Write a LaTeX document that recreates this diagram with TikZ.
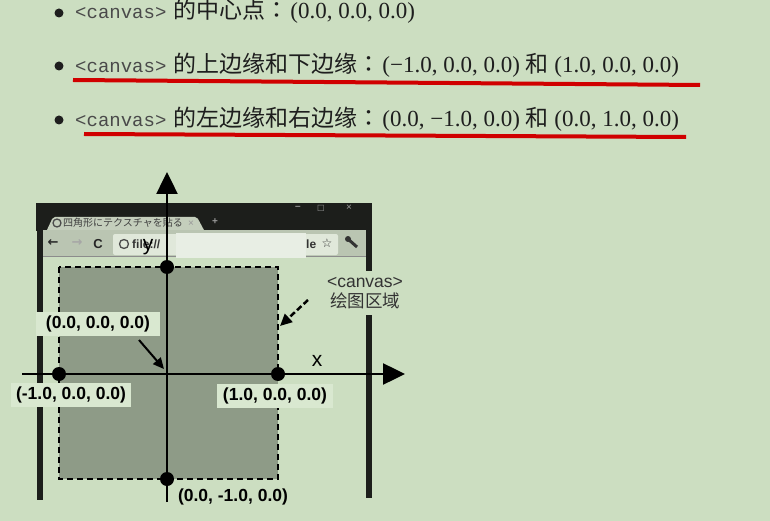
\documentclass[tikz,border=0pt]{standalone}
\usepackage{fontspec}
\setmainfont{Liberation Serif}
\setsansfont{Liberation Sans}
\setmonofont{Liberation Mono}
\newfontfamily\cjk{Noto Sans CJK SC}
\newfontfamily\cjktc{Noto Sans CJK TC}
\newfontfamily\jpfont{Noto Sans CJK JP}
\newfontfamily\symfont{DejaVu Sans}
\usetikzlibrary{arrows.meta}
\definecolor{bg}{HTML}{CCDEC1}
\definecolor{boxbg}{HTML}{D9E8D0}
\definecolor{canvasgray}{HTML}{8E9B87}
\definecolor{framedark}{HTML}{1C1E1B}
\definecolor{toolgray}{HTML}{BAC5B2}
\definecolor{tabgray}{HTML}{C4CEBC}
\definecolor{addrwhite}{HTML}{E0E8DA}
\definecolor{coverwhite}{HTML}{E8EEE4}
\definecolor{monogray}{HTML}{4A4A4A}
\definecolor{uline}{HTML}{D00000}
\definecolor{txtdark}{HTML}{1E1E1E}
\newcommand{\monotxt}[1]{{\color{monogray}\ttfamily\fontsize{19}{22}\selectfont #1}}
\newcommand{\cjkcolon}{{\cjktc ：}\hspace{2pt}}
\tikzset{
  bulletdot/.style={circle, fill=txtdark, minimum size=9pt, inner sep=0pt},
  bulletline/.style={anchor=base west, inner sep=0pt, text=txtdark, font=\fontsize{23}{27}\selectfont},
  redline/.style={draw=uline, line width=4pt},
  axis/.style={draw=black, line width=2.5pt, -{Triangle[length=22pt,width=21pt]}},
  ptdot/.style={circle, fill=black, minimum size=14pt, inner sep=0pt},
  coordlabel/.style={font=\sffamily\bfseries\fontsize{17.5}{20}\selectfont, text=black, inner ysep=4pt},
  axislabel/.style={font=\sffamily\fontsize{21}{24}\selectfont, text=black, inner sep=0pt, anchor=base},
  ptr/.style={draw=black, line width=2pt, -{Triangle[length=11pt,width=10pt]}},
  dashptr/.style={draw=black, line width=2.5pt, dash pattern=on 6pt off 3pt, -{Triangle[length=12pt,width=11pt]}},
  tinytxt/.style={inner sep=0pt, font=\sffamily\bfseries\fontsize{12}{12}\selectfont, text=black!80},
}
\begin{document}
\begin{tikzpicture}[x=1pt,y=-1pt]
\fill[bg] (0,0) rectangle (770,521);
\useasboundingbox (0,0) rectangle (770,521);

% ---------- bullet list ----------
\node[bulletdot] (b1) at (59,13) {};
\node[bulletdot] (b2) at (59,66) {};
\node[bulletdot] (b3) at (59,120) {};
\node[bulletline] (t1) at (75,19) {\monotxt{<canvas>}\hspace{7pt}{\cjk 的中心点}\cjkcolon(0.0, 0.0, 0.0)};
\node[bulletline] (t2) at (75,73) {\monotxt{<canvas>}\hspace{7pt}{\cjk 的上边缘和下边缘}\cjkcolon(−1.0, 0.0, 0.0) {\cjk 和} (1.0, 0.0, 0.0)};
\node[bulletline] (t3) at (75,127) {\monotxt{<canvas>}\hspace{7pt}{\cjk 的左边缘和右边缘}\cjkcolon(0.0, −1.0, 0.0) {\cjk 和} (0.0, 1.0, 0.0)};
\coordinate (u2a) at (73,80);
\coordinate (u2b) at (700,85);
\coordinate (u3a) at (84,134);
\coordinate (u3b) at (686,137);
\draw[redline] (u2a) -- (u2b);
\draw[redline] (u3a) -- (u3b);

% ---------- browser window ----------
\fill[framedark] (36,203) rectangle (372,231);
\fill[tabgray, rounded corners=2pt] (46,232) -- (53,217) -- (197,217) -- (205,232) -- cycle;
\fill[toolgray] (42,230) rectangle (366,256);
\draw[black!45, line width=0.8pt] (42,256) -- (366,256);
\fill[framedark] (37,203) rectangle (43,500);
\fill[framedark] (366,203) rectangle (372,498);
% tab contents
\draw[black!70, line width=1.3pt] (57,223) circle (4);
\node[inner sep=0pt, anchor=west, text=black!75, font=\jpfont\fontsize{10}{10}\selectfont] (tabtitle) at (63,223) {四角形にテクスチャを貼る};
\node[inner sep=0pt, text=black!40, font=\sffamily\fontsize{10}{10}\selectfont] (tabclose) at (191,224) {×};
\node[inner sep=0pt, text=black!40, font=\sffamily\bfseries\fontsize{10}{10}\selectfont] (newtab) at (215,222) {+};
% window buttons
\node[inner sep=0pt, text=black!40, font=\sffamily\bfseries\fontsize{10}{10}\selectfont] (wmin) at (298,208) {–};
\node[inner sep=0pt, text=black!40, font=\symfont\fontsize{8}{8}\selectfont] (wmax) at (321,208) {□};
\node[inner sep=0pt, text=black!40, font=\sffamily\fontsize{10}{10}\selectfont] (wclose) at (349,208) {×};
% toolbar
\node[inner sep=0pt, text=black!85, font=\symfont\bfseries\fontsize{13}{13}\selectfont] (back) at (53,243) {←};
\node[inner sep=0pt, text=black!35, font=\symfont\bfseries\fontsize{13}{13}\selectfont] (fwd) at (77,243) {→};
\node[inner sep=0pt, text=black!85, font=\sffamily\bfseries\fontsize{13}{13}\selectfont] (reload) at (98,244) {C};
\fill[addrwhite, rounded corners=2pt] (113,234) rectangle (338,255);
\draw[black!70, line width=1.3pt] (124,244) circle (4.5);
\node[tinytxt, anchor=west] (url) at (132,244) {file://};
\fill[coverwhite] (176,233) rectangle (306,258);
\node[tinytxt, anchor=west] (urlend) at (306,244) {le};
\node[inner sep=0pt, text=black!80, font=\symfont\bfseries\fontsize{12}{12}\selectfont] (star) at (327,243) {☆};
\draw[black!80, line width=3pt] (348,239) -- (357,247);
\fill[black!80] (348,239) circle (3);

% ---------- canvas ----------
\draw[black, line width=2pt, dash pattern=on 6pt off 4pt, fill=canvasgray] (59,267) rectangle (278,479);

% label boxes and labels
\node[coordlabel, fill=boxbg, inner xsep=10pt] (lab0) at (98,324) {(0.0, 0.0, 0.0)};
\node[coordlabel, fill=boxbg, inner xsep=5pt] (labm) at (71,395) {(-1.0, 0.0, 0.0)};
\node[coordlabel, fill=boxbg, inner xsep=6pt] (labp) at (275,396) {(1.0, 0.0, 0.0)};
\node[coordlabel] (labb) at (233,497) {(0.0, -1.0, 0.0)};
\node[fill=bg, align=center, inner xsep=4pt, inner ysep=6pt, text=black!80,
      font=\sffamily\fontsize{17.5}{20}\selectfont] (cvlab) at (365,293) {<canvas>\\{\cjk 绘图区域}};

% ---------- axes ----------
\coordinate (xs) at (22,374);
\coordinate (xe) at (405,374);
\coordinate (ys) at (167,502);
\coordinate (ye) at (167,172);
\draw[axis] (xs) -- (xe);
\draw[axis] (ys) -- (ye);

\node[ptdot] (pm) at (59,374) {};
\node[ptdot] (pp) at (278,374) {};
\node[ptdot] (pt) at (167,267) {};
\node[ptdot] (pb) at (167,479) {};

\node[axislabel] (xlab) at (317,366) {x};
\node[axislabel] (ylab) at (148,251) {y};

% pointers
\coordinate (oas) at (139,340);
\coordinate (oae) at (164,369);
\draw[ptr] (oas) -- (oae);
\coordinate (cas) at (308,300);
\coordinate (cae) at (280,326);
\draw[dashptr] (cas) -- (cae);
\end{tikzpicture}
\end{document}
